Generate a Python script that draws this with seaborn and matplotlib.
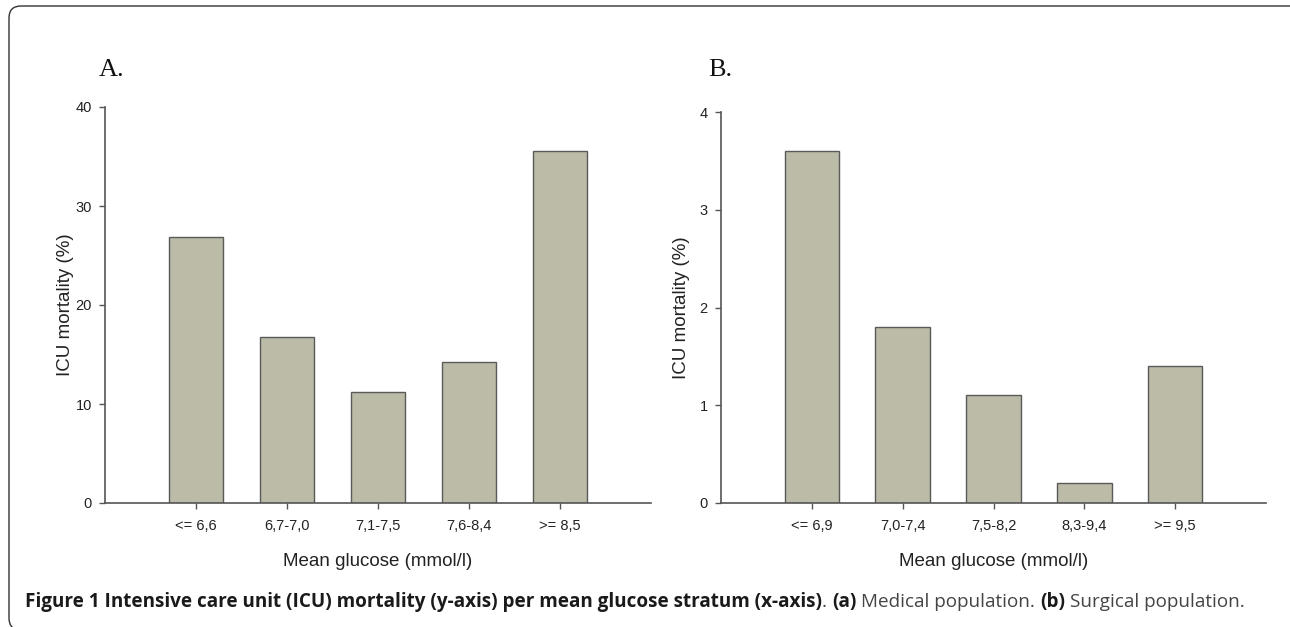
import matplotlib
matplotlib.use("Agg")
import matplotlib.pyplot as plt
from matplotlib.patches import FancyBboxPatch
from matplotlib.transforms import IdentityTransform
import seaborn as sns
import pandas as pd

# ---- data ----
strata_a = ["<= 6,6", "6,7-7,0", "7,1-7,5", "7,6-8,4", ">= 8,5"]
mortality_a = [26.9, 16.8, 11.2, 14.2, 35.6]
strata_b = ["<= 6,9", "7,0-7,4", "7,5-8,2", "8,3-9,4", ">= 9,5"]
mortality_b = [3.6, 1.8, 1.1, 0.2, 1.4]
yticks_a = [0, 10, 20, 30, 40]
yticks_b = [0, 1, 2, 3, 4]
panel_letters = ["A.", "B."]
xlabel_text = "Mean glucose (mmol/l)"
ylabel_text = "ICU mortality (%)"
caption_parts = [
    ("Figure 1 Intensive care unit (ICU) mortality (y-axis) per mean glucose stratum (x-axis)", "bold"),
    (".", "normal"),
    (" ", "space"),
    ("(a)", "bold"),
    (" ", "space"),
    ("Medical population.", "normal"),
    (" ", "space"),
    ("(b)", "bold"),
    (" ", "space"),
    ("Surgical population.", "normal"),
]

sns.set_theme(style="ticks")
plt.rcParams["font.family"] = ["Liberation Sans", "DejaVu Sans"]

W, H = 1290, 627
fig = plt.figure(figsize=(W / 100, H / 100), dpi=100)
fig.patch.set_facecolor("white")

BAR = "#bbbba8"
EDGE = "#5a5a5a"
SPINE = "#555555"
TXT = "#222222"

def px_axes(left, top, right, bottom):
    return [left / W, 1 - bottom / H, (right - left) / W, (bottom - top) / H]

panels = [
    dict(rect=px_axes(105, 107, 651, 503), cats=strata_a, vals=mortality_a,
         ymax=40, yticks=yticks_a, letter=(112, 70)),
    dict(rect=px_axes(721, 112, 1266, 503), cats=strata_b, vals=mortality_b,
         ymax=4, yticks=yticks_b, letter=(720, 70)),
]

for i, p in enumerate(panels):
    ax = fig.add_axes(p["rect"])
    df = pd.DataFrame({"stratum": p["cats"], "mortality": p["vals"]})
    sns.barplot(data=df, x="stratum", y="mortality", order=p["cats"],
                color=BAR, saturation=1, width=0.6, edgecolor=EDGE,
                linewidth=1.0, ax=ax)
    ax.set_xlim(-1, 5)
    ax.set_ylim(0, p["ymax"])
    ax.set_yticks(p["yticks"])
    ax.set_facecolor("white")
    for s in ["top", "right"]:
        ax.spines[s].set_visible(False)
    for s in ["left", "bottom"]:
        ax.spines[s].set_color(SPINE)
        ax.spines[s].set_linewidth(1.2)
    ax.tick_params(axis="both", direction="out", length=4.5, width=1.0,
                   color=SPINE, labelsize=10.5, labelcolor=TXT)
    ax.tick_params(axis="x", pad=7)
    ax.tick_params(axis="y", pad=5)
    ax.set_xlabel(xlabel_text, fontsize=13.5, color=TXT)
    ax.set_ylabel(ylabel_text, fontsize=13.5, color=TXT)
    h_px = p["rect"][3] * H
    w_px = p["rect"][2] * W
    ax.xaxis.set_label_coords(0.5, -(562 - 503) / h_px)
    ax.xaxis.label.set_va("center")
    ax.yaxis.set_label_coords(-40 / w_px, 0.5)
    ax.yaxis.label.set_va("center")
    lx, ly = p["letter"]
    fig.text(lx / W, 1 - ly / H, panel_letters[i], family=["Liberation Serif", "DejaVu Serif"],
             fontsize=19, color="#111111", ha="center", va="center")

# ---- border (rounded frame; right and bottom edges run off the canvas) ----
frame = FancyBboxPatch((9, -3), 1310, 627 - 6 + 3, boxstyle="round,pad=0,rounding_size=12",
                       transform=IdentityTransform(), facecolor="none",
                       edgecolor="#333333", linewidth=1.0)
fig.add_artist(frame)

# ---- caption with mixed weights, fitted to width ----
cap_family = ["Open Sans", "DejaVu Sans"]
x_start, x_end, y_cap = 25, 1238, 602
renderer = fig.canvas.get_renderer()

def measure(size):
    widths = []
    for txt, kind in caption_parts:
        if kind == "space":
            t1 = fig.text(0, 0, "a a", fontsize=size, family=cap_family)
            t2 = fig.text(0, 0, "aa", fontsize=size, family=cap_family)
            w = t1.get_window_extent(renderer).width - t2.get_window_extent(renderer).width
            t1.remove(); t2.remove()
        else:
            t = fig.text(0, 0, txt, fontsize=size, family=cap_family,
                         weight="bold" if kind == "bold" else "normal")
            w = t.get_window_extent(renderer).width
            t.remove()
        widths.append(w)
    return widths

base = 12.0
ws = measure(base)
size = base * (x_end - x_start) / sum(ws)
ws = measure(size)
x = x_start
for (txt, kind), w in zip(caption_parts, ws):
    if kind != "space":
        fig.text(x / W, 1 - y_cap / H, txt, fontsize=size, family=cap_family,
                 weight="bold" if kind == "bold" else "normal",
                 color="#1a1a1a" if kind == "bold" else "#444444",
                 ha="left", va="center")
    x += w

fig.savefig("out.png", dpi=100, facecolor="white")
